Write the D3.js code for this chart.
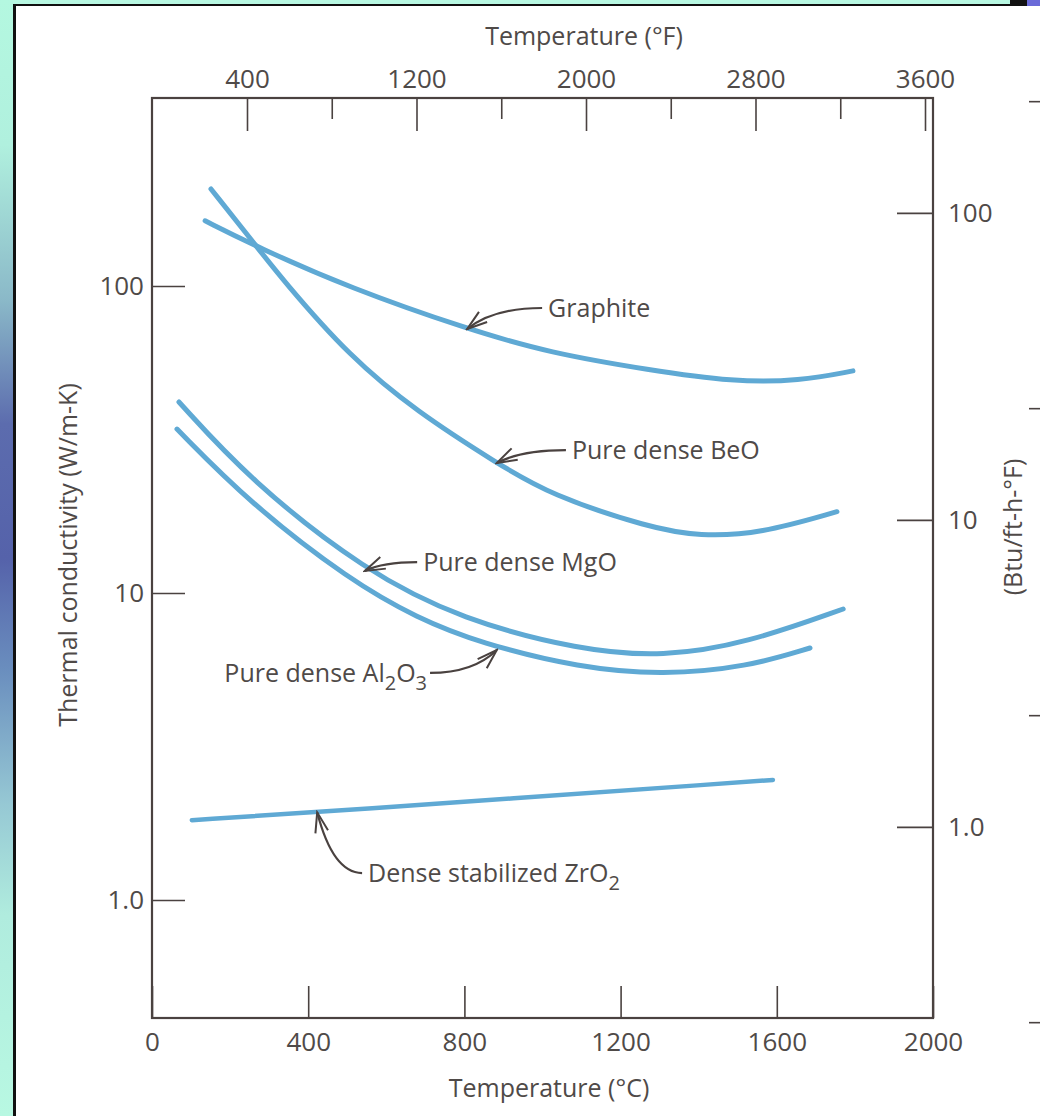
<!DOCTYPE html>
<html>
<head>
<meta charset="utf-8">
<script src="https://cdn.jsdelivr.net/npm/d3@7"></script>
<style>
  body { margin: 0; background: #fff; }
  svg text { font-family: "Open Sans", "Noto Sans", sans-serif; fill: #4f4a48; }
  .axis text { font-size: 26px; }
  .axis line { stroke: #4a4240; stroke-width: 1.6; }
  .axis path { display: none; }
</style>
</head>
<body>
<svg id="chart"></svg>
<script>
// conductivity curves, [temperature °C, conductivity W/m-K]
const graphite = [[136, 163], [269, 134], [507, 98.5], [807, 72.4], [1019, 60.5], [1275, 53.2], [1488, 48.7], [1659, 49.0], [1795, 52.9]];
const beo = [[151, 207], [269, 134], [335, 104.6], [507, 58.7], [679, 38.9], [883, 26.5], [1019, 20.9], [1275, 16.3], [1403, 15.3], [1557, 15.6], [1754, 18.4]];
const mgo = [[69, 41.9], [251, 23.3], [545, 11.8], [796, 8.17], [1096, 6.52], [1309, 6.19], [1524, 6.87], [1770, 8.87]];
const al2o3 = [[64, 34.2], [251, 19.6], [507, 11.0], [679, 8.29], [840, 6.87], [1096, 5.70], [1309, 5.41], [1524, 5.74], [1685, 6.62]];
const zro2 = [[102, 1.82], [423, 1.93], [1590, 2.46]];

const series = [graphite, beo, mgo, al2o3, zro2];

// labels: arrow start (label side) and arrow tip on the curve, both in °C / W/m-K
const annotations = [
    {text: 'Graphite', from: [999, 84.8], to: [807, 72.4], side: 'right'},
    {text: 'Pure dense BeO', from: [1060, 29.2], to: [883, 26.5], side: 'right'},
    {text: 'Pure dense MgO', from: [679, 12.6], to: [545, 11.8], side: 'right'},
    {text: 'Pure dense Al_2O_3', from: [712, 5.49], to: [883, 6.52], side: 'left'},
    {text: 'Dense stabilized ZrO_2', from: [538, 1.224], to: [423, 1.93], side: 'right'}
];

// tick values
const celsiusTicks = [0, 400, 800, 1200, 1600, 2000];
const fahrenheitMajor = [400, 1200, 2000, 2800, 3600];
const fahrenheitMinor = [800, 1600, 2400, 3200];
const wmkTicks = [1, 10, 100];
const btuTicks = [1, 10, 100];
const neighbourTicks = [0.4, 4, 40, 400];   // axis of the next page peeking in at the right edge

const W_PER_BTU = 1.7307;

const config = {
    width: 1040,
    height: 1116,
    frame: {left: 152, right: 933, top: 98, bottom: 1018},
    lineColor: '#5fa9d4',
    inkColor: '#4a4240'
};

const svg = d3.select('#chart')
    .attr('width', config.width)
    .attr('height', config.height);

// slide background: mint border, shaded strip on the left, black edge of the page
const defs = svg.append('defs');
const grad = defs.append('linearGradient')
    .attr('id', 'strip')
    .attr('x1', 0).attr('y1', 0).attr('x2', 0).attr('y2', 1);
[[0, '#b4f8e0'], [0.13, '#b0f0de'], [0.27, '#8ab8c8'], [0.38, '#5c6cae'], [0.5, '#5562aa'],
 [0.6, '#6a8ebe'], [0.72, '#96c8d4'], [0.82, '#b0ecde'], [1, '#b8f8e2']]
    .forEach(s => grad.append('stop').attr('offset', s[0]).attr('stop-color', s[1]));

svg.append('rect').attr('width', config.width).attr('height', config.height).attr('fill', '#b8f8e2');
svg.append('rect').attr('width', 13).attr('height', config.height).attr('fill', 'url(#strip)');
svg.append('rect').attr('x', 13).attr('y', 4).attr('width', config.width - 13).attr('height', config.height - 4).attr('fill', '#111');
svg.append('rect').attr('x', 16).attr('y', 6).attr('width', config.width - 16).attr('height', config.height - 6).attr('fill', '#fff');
svg.append('rect').attr('x', 1010).attr('y', 0).attr('width', 17).attr('height', 6).attr('fill', '#111');
svg.append('rect').attr('x', 1027).attr('y', 0).attr('width', 13).attr('height', 6).attr('fill', '#6a6ad8');

const f = config.frame;

const xScale = d3.scaleLinear().domain([0, 2000]).range([f.left, f.right]);
const fScale = d3.scaleLinear().domain([400, 3600]).range([247, 925]);
const yScale = d3.scaleLog().domain([1, 100]).range([900, 286]);
const btuScale = d3.scaleLog()
    .domain(yScale.domain().map(d => d / W_PER_BTU))
    .range(yScale.range());

const plain = d3.format('d');
const fmt = d => d === 1 ? '1.0' : plain(d);

// axes
svg.append('g').attr('class', 'axis')
    .attr('transform', `translate(0,${f.bottom})`)
    .call(d3.axisBottom(xScale).tickValues(celsiusTicks).tickSize(-32).tickPadding(15).tickFormat(plain));

svg.append('g').attr('class', 'axis')
    .attr('transform', `translate(0,${f.top})`)
    .call(d3.axisTop(fScale).tickValues(fahrenheitMajor).tickSize(-33).tickPadding(10).tickFormat(plain));

svg.append('g').attr('class', 'axis')
    .attr('transform', `translate(0,${f.top})`)
    .call(d3.axisTop(fScale).tickValues(fahrenheitMinor).tickSize(-21).tickFormat(''));

svg.append('g').attr('class', 'axis')
    .attr('transform', `translate(${f.left},0)`)
    .call(d3.axisLeft(yScale).tickValues(wmkTicks).tickSize(-33).tickPadding(8).tickFormat(fmt));

svg.append('g').attr('class', 'axis')
    .attr('transform', `translate(${f.right},0)`)
    .call(d3.axisRight(btuScale).tickValues(btuTicks).tickSize(-36).tickPadding(15).tickFormat(fmt));

svg.append('g').attr('class', 'axis')
    .attr('transform', `translate(1029,0)`)
    .call(d3.axisRight(yScale).tickValues(neighbourTicks).tickSize(12).tickFormat(''));

// frame
svg.append('rect')
    .attr('x', f.left).attr('y', f.top)
    .attr('width', f.right - f.left).attr('height', f.bottom - f.top)
    .attr('fill', 'none')
    .attr('stroke', config.inkColor)
    .attr('stroke-width', 2.2);

// axis titles
svg.append('text')
    .attr('x', 584).attr('y', 45)
    .attr('text-anchor', 'middle')
    .attr('font-size', 25)
    .text('Temperature (°F)');

svg.append('text')
    .attr('x', 549).attr('y', 1097)
    .attr('text-anchor', 'middle')
    .attr('font-size', 25)
    .text('Temperature (°C)');

svg.append('text')
    .attr('transform', 'translate(77,555) rotate(-90)')
    .attr('text-anchor', 'middle')
    .attr('font-size', 25)
    .text('Thermal conductivity (W/m-K)');

svg.append('text')
    .attr('transform', 'translate(1022,527) rotate(-90)')
    .attr('text-anchor', 'middle')
    .attr('font-size', 25)
    .text('(Btu/ft-h-°F)');

// curves
const line = d3.line()
    .x(d => xScale(d[0]))
    .y(d => yScale(d[1]))
    .curve(d3.curveBasis);

svg.append('g')
    .selectAll('path')
    .data(series)
    .join('path')
    .attr('d', line)
    .attr('fill', 'none')
    .attr('stroke', config.lineColor)
    .attr('stroke-width', (d, i) => i === 4 ? 4.5 : 5)
    .attr('stroke-linecap', 'round');

// arrowhead
defs.append('marker')
    .attr('id', 'arrow')
    .attr('markerUnits', 'userSpaceOnUse')
    .attr('viewBox', '-22 -10 24 20')
    .attr('markerWidth', 24).attr('markerHeight', 20)
    .attr('refX', 0).attr('refY', 0)
    .attr('orient', 'auto')
    .append('path')
    .attr('d', 'M-20,-7 L0,0 L-20,6')
    .attr('fill', 'none')
    .attr('stroke', config.inkColor)
    .attr('stroke-width', 2);

const ann = svg.append('g');

annotations.forEach(a => {
    const x0 = xScale(a.from[0]), y0 = yScale(a.from[1]);
    const x1 = xScale(a.to[0]), y1 = yScale(a.to[1]);
    const cx = x1 + 0.35 * (x0 - x1);
    ann.append('path')
        .attr('d', `M${x0},${y0} Q${cx},${y0} ${x1},${y1}`)
        .attr('fill', 'none')
        .attr('stroke', config.inkColor)
        .attr('stroke-width', 2.2)
        .attr('marker-end', 'url(#arrow)');

    const right = a.side === 'right';
    const t = ann.append('text')
        .attr('x', right ? x0 + 6 : x0 - 3)
        .attr('y', y0)
        .attr('dy', '0.35em')
        .attr('font-size', 25)
        .attr('text-anchor', right ? 'start' : 'end');

    // "_2" marks a subscript digit
    let lowered = false;
    a.text.split(/(_\d)/).filter(s => s.length).forEach(part => {
        if (part[0] === '_') {
            t.append('tspan').attr('dy', 8).attr('font-size', 20).text(part.slice(1));
            lowered = true;
        } else {
            t.append('tspan').attr('dy', lowered ? -8 : null).text(part);
            lowered = false;
        }
    });
});
</script>
</body>
</html>
